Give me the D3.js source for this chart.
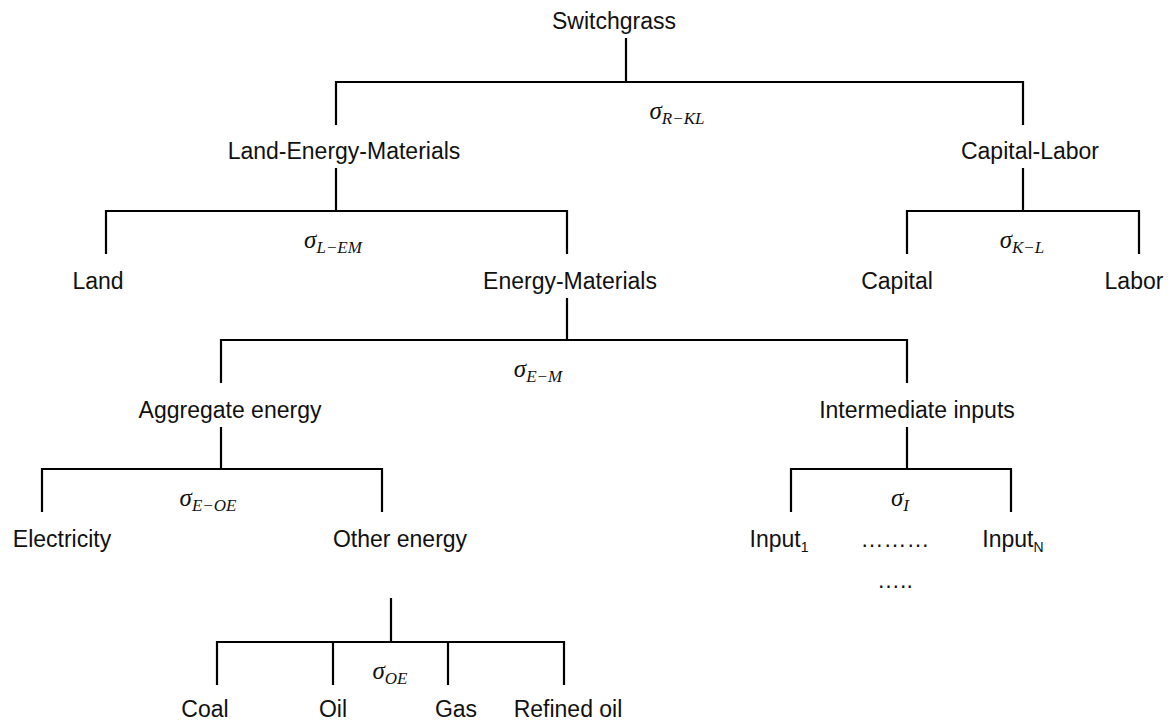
<!DOCTYPE html>
<html>
<head>
<meta charset="utf-8">
<script src="https://cdn.jsdelivr.net/npm/d3@7"></script>
<style>
  body { margin: 0; background: #fff; }
  .label { font-family: "Liberation Sans", Arial, Helvetica, sans-serif; font-size: 23px; fill: #111; }
  .sigma { font-family: "Liberation Serif", "DejaVu Serif", serif; font-style: italic; fill: #111; }
  .link { fill: none; stroke: #000; stroke-width: 2.2; }
</style>
</head>
<body>
<svg class="tree"></svg>
<script>
// Nesting structure of the switchgrass production function
var nodeNames = ["Switchgrass", "Land-Energy-Materials", "Capital-Labor", "Land", "Energy-Materials",
  "Capital", "Labor", "Aggregate energy", "Intermediate inputs", "Electricity", "Other energy",
  "Input_1", "Input_N", "Coal", "Oil", "Gas", "Refined oil"];
var parentNames = ["", "Switchgrass", "Switchgrass", "Land-Energy-Materials", "Land-Energy-Materials",
  "Capital-Labor", "Capital-Labor", "Energy-Materials", "Energy-Materials", "Aggregate energy",
  "Aggregate energy", "Intermediate inputs", "Intermediate inputs", "Other energy", "Other energy",
  "Other energy", "Other energy"];

// elasticity of substitution attached to each nest
var nestNames = ["Switchgrass", "Land-Energy-Materials", "Capital-Labor", "Energy-Materials",
  "Aggregate energy", "Intermediate inputs", "Other energy"];
var elasticities = ["R\u2212KL", "L\u2212EM", "K\u2212L", "E\u2212M", "E\u2212OE", "I", "OE"];

// extra ellipsis texts under the intermediate inputs
var ellipsisTexts = ["\u2026\u2026\u2026", "\u2026.."];

var width = 1171, height = 724;

// layout (pixels): line x, label centre x, where the stem leaves the node
var layout = {
  "Switchgrass":           { x: 626,  lx: 614,  sx: 626 },
  "Land-Energy-Materials": { x: 336,  lx: 344,  sx: 336 },
  "Capital-Labor":         { x: 1023, lx: 1030, sx: 1023 },
  "Land":                  { x: 106,  lx: 98 },
  "Energy-Materials":      { x: 567,  lx: 570,  sx: 567 },
  "Capital":               { x: 907,  lx: 897 },
  "Labor":                 { x: 1139, lx: 1134 },
  "Aggregate energy":      { x: 221,  lx: 230,  sx: 221 },
  "Intermediate inputs":   { x: 907,  lx: 917,  sx: 907 },
  "Electricity":           { x: 42,   lx: 62 },
  "Other energy":          { x: 382,  lx: 400,  sx: 391, stemTop: 598 },
  "Input_1":               { x: 791,  lx: 779 },
  "Input_N":               { x: 1011, lx: 1013 },
  "Coal":                  { x: 217,  lx: 205 },
  "Oil":                   { x: 333,  lx: 333 },
  "Gas":                   { x: 448,  lx: 456 },
  "Refined oil":           { x: 564,  lx: 568 }
};
var sigmaX = { "Switchgrass": 677, "Land-Energy-Materials": 333, "Capital-Labor": 1022,
  "Energy-Materials": 538, "Aggregate energy": 208, "Intermediate inputs": 900, "Other energy": 390 };

var labelY = d3.scaleOrdinal().domain([0, 1, 2, 3, 4, 5]).range([29, 159, 289, 418, 547, 717]);
var barY = d3.scaleOrdinal().domain([0, 1, 2, 3, 4]).range([82, 211, 340, 469, 642]);
var drop = 43;

var svg = d3.select(".tree")
  .attr("width", width)
  .attr("height", height);

var table = nodeNames.map(function (n, i) { return { name: n, parent: parentNames[i] }; });
var root = d3.stratify()
  .id(function (d) { return d.name; })
  .parentId(function (d) { return d.parent || null; })(table);

// brackets
var parentsList = root.descendants().filter(function (d) { return d.children; });
svg.selectAll(".link")
  .data(parentsList)
  .enter().append("path")
  .attr("class", "link")
  .attr("d", function (p) {
    var L = layout[p.id];
    var by = barY(p.depth);
    var top = L.stemTop || labelY(p.depth) + 9;
    var xs = p.children.map(function (c) { return layout[c.id].x; });
    var path = d3.path();
    path.moveTo(L.sx, top);
    path.lineTo(L.sx, by);
    path.moveTo(d3.min(xs), by + drop);
    path.lineTo(d3.min(xs), by);
    path.lineTo(d3.max(xs), by);
    path.lineTo(d3.max(xs), by + drop);
    xs.slice(1, -1).forEach(function (x) {
      path.moveTo(x, by);
      path.lineTo(x, by + drop);
    });
    return path.toString();
  });

// node labels
var labels = svg.selectAll(".label")
  .data(root.descendants())
  .enter().append("text")
  .attr("class", "label")
  .attr("text-anchor", "middle")
  .attr("x", function (d) { return layout[d.id].lx; })
  .attr("y", function (d) { return labelY(d.depth); });

labels.each(function (d) {
  var t = d3.select(this);
  var parts = d.id.split("_");
  t.append("tspan").text(parts[0]);
  if (parts.length > 1) {
    t.append("tspan")
      .attr("dy", 5)
      .style("font-size", "14px")
      .text(parts[1]);
  }
});

// ellipses
var ii = layout["Intermediate inputs"];
svg.selectAll(".ellipsis")
  .data(ellipsisTexts)
  .enter().append("text")
  .attr("class", "label ellipsis")
  .attr("text-anchor", "middle")
  .attr("x", ii.lx - 22)
  .attr("y", function (d, i) { return labelY(4) + i * 41; })
  .text(function (d) { return d; });

// sigma labels
var sig = svg.selectAll(".sigma")
  .data(nestNames)
  .enter().append("text")
  .attr("class", "sigma")
  .attr("text-anchor", "middle")
  .attr("x", function (d) { return sigmaX[d]; })
  .attr("y", function (d) { return barY(root.find(function (n) { return n.id === d; }).depth) + 37; });

sig.append("tspan")
  .style("font-size", "25px")
  .text("\u03c3");
sig.append("tspan")
  .attr("dy", 5)
  .style("font-size", "17px")
  .text(function (d, i) { return elasticities[i]; });
</script>
</body>
</html>
